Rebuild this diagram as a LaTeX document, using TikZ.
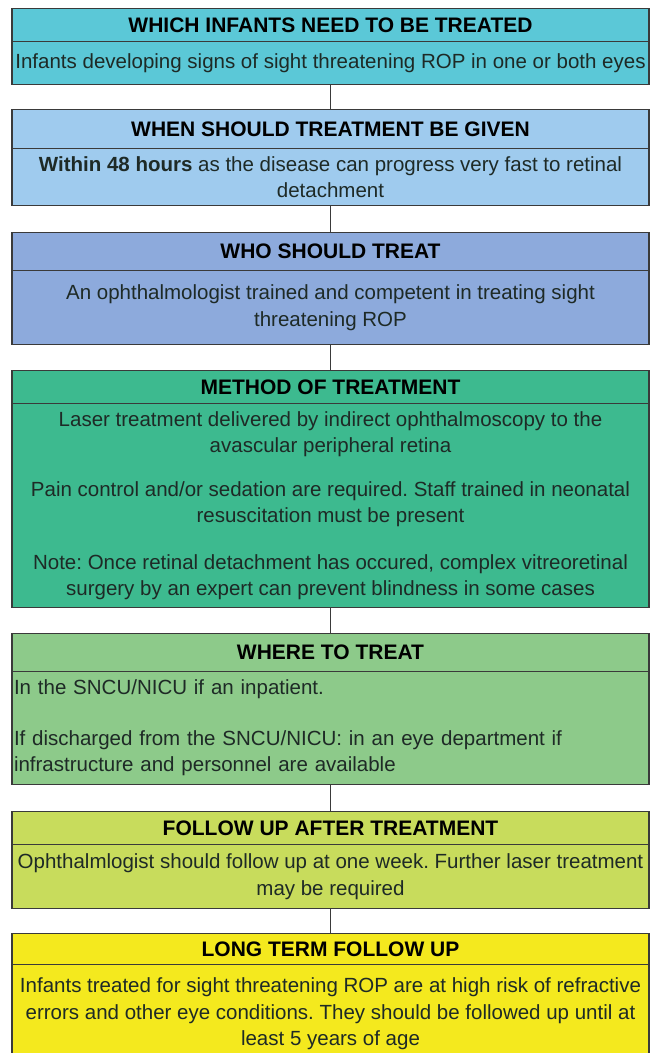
\documentclass[tikz,border=0pt]{standalone}
\usepackage{fontspec}
\setmainfont{Liberation Sans}
\frenchspacing
\definecolor{cA}{HTML}{5BC8D7}
\definecolor{cB}{HTML}{9FCBEE}
\definecolor{cC}{HTML}{8DAADC}
\definecolor{cD}{HTML}{3DBA8F}
\definecolor{cE}{HTML}{8DCA8A}
\definecolor{cF}{HTML}{C8DC5C}
\definecolor{cG}{HTML}{F4E91E}
\definecolor{edge}{HTML}{3A3A3A}
\definecolor{txt}{HTML}{1E2A26}
\begin{document}
\begin{tikzpicture}[x=1pt,y=-1pt,
  boxbase/.style={rectangle,draw=edge,line width=1.2pt,minimum width=637pt,inner ysep=0pt,anchor=north},
  hdr/.style={boxbase,inner xsep=2pt,font=\fontsize{21}{26.5}\selectfont\bfseries,text=black},
  bodytxt/.style={boxbase,inner xsep=2pt,align=center,font=\fontsize{20.5}{26.5}\selectfont,text=txt},
  conn/.style={draw=edge,line width=1.5pt}]
\clip (0,0) rectangle (654,1053);
\fill[white] (0,0) rectangle (654,1053);
% box 1
\node[hdr,fill=cA,minimum height=33pt] (h1) at (330.5,8) {WHICH INFANTS NEED TO BE TREATED};
\node[bodytxt,fill=cA,minimum height=43pt] (b1) at (330.5,41) {Infants developing signs of sight threatening ROP in one or both eyes};
% box 2
\node[hdr,fill=cB,minimum height=39pt] (h2) at (330.5,109) {WHEN SHOULD TREATMENT BE GIVEN};
\node[bodytxt,fill=cB,minimum height=57pt] (b2) at (330.5,148) {\textbf{Within 48 hours} as the disease can progress very fast to retinal\\ detachment};
% box 3
\node[hdr,fill=cC,minimum height=38pt] (h3) at (330.5,232) {WHO SHOULD TREAT};
\node[bodytxt,fill=cC,minimum height=74pt] (b3) at (330.5,270) {An ophthalmologist trained and competent in treating sight\\ threatening ROP};
% box 4
\node[hdr,fill=cD,minimum height=33pt] (h4) at (330.5,370) {METHOD OF TREATMENT};
\node[bodytxt,fill=cD,minimum height=204pt] (b4) at (330.5,403) {Laser treatment delivered by indirect ophthalmoscopy to the\\ avascular peripheral retina\\[17pt] Pain control and/or sedation are required. Staff trained in neonatal\\ resuscitation must be present\\[20pt] Note: Once retinal detachment has occured, complex vitreoretinal\\ surgery by an expert can prevent blindness in some cases};
% box 5
\node[hdr,fill=cE,minimum height=38pt] (h5) at (330.5,633) {WHERE TO TREAT};
\node[bodytxt,fill=cE,minimum height=113pt,text width=633pt,align=left] (b5) at (330.5,671) {In the SNCU/NICU if an inpatient.\\[24pt] If discharged from the SNCU/NICU: in an eye department if\\ infrastructure and personnel are available};
% box 6
\node[hdr,fill=cF,minimum height=33pt] (h6) at (330.5,811) {FOLLOW UP AFTER TREATMENT};
\node[bodytxt,fill=cF,minimum height=64pt] (b6) at (330.5,844) {Ophthalmlogist should follow up at one week. Further laser treatment\\ may be required};
% box 7
\node[hdr,fill=cG,minimum height=31pt] (h7) at (330.5,933) {LONG TERM FOLLOW UP};
\node[bodytxt,fill=cG,minimum height=99pt] (b7) at (330.5,964) {Infants treated for sight threatening ROP are at high risk of refractive\\ errors and other eye conditions. They should be followed up until at\\ least 5 years of age};
% connectors
\draw[conn] (b1.south) -- (h2.north);
\draw[conn] (b2.south) -- (h3.north);
\draw[conn] (b3.south) -- (h4.north);
\draw[conn] (b4.south) -- (h5.north);
\draw[conn] (b5.south) -- (h6.north);
\draw[conn] (b6.south) -- (h7.north);
\end{tikzpicture}
\end{document}
